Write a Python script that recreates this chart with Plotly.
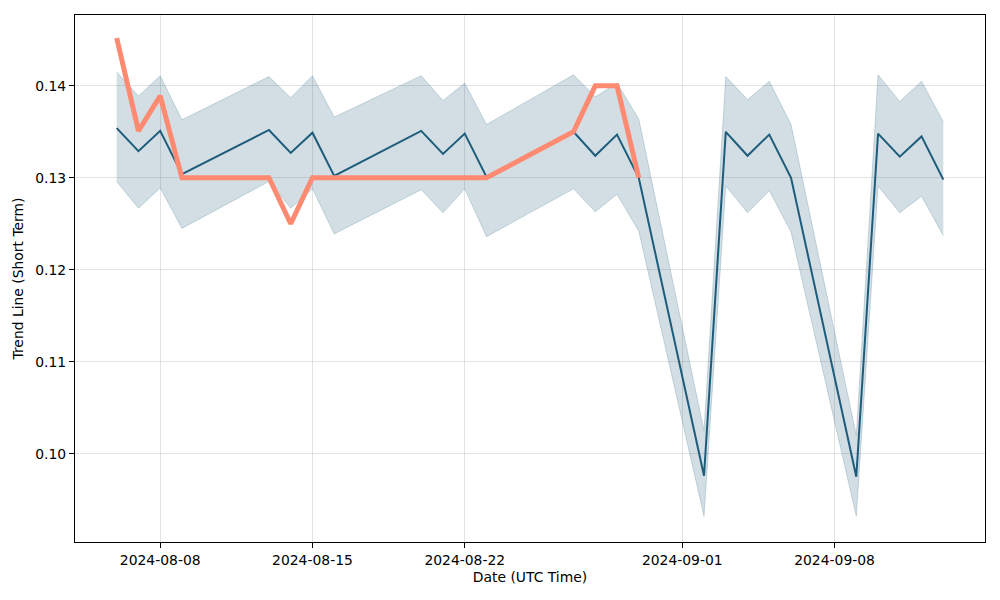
import plotly.graph_objects as go

dates = ["2024-08-06", "2024-08-07", "2024-08-08", "2024-08-09", "2024-08-13", "2024-08-14",
         "2024-08-15", "2024-08-16", "2024-08-20", "2024-08-21", "2024-08-22", "2024-08-23",
         "2024-08-27", "2024-08-28", "2024-08-29", "2024-08-30", "2024-09-02", "2024-09-03",
         "2024-09-04", "2024-09-05", "2024-09-06", "2024-09-09", "2024-09-10", "2024-09-11",
         "2024-09-12", "2024-09-13"]
trend = [0.1354, 0.1329, 0.1351, 0.1304, 0.1352, 0.1327, 0.1349, 0.1302, 0.1351, 0.1326,
         0.1348, 0.1301, 0.1350, 0.1324, 0.1347, 0.1300, 0.0976, 0.1350, 0.1324, 0.1347,
         0.1300, 0.0975, 0.1348, 0.1323, 0.1345, 0.1298]
upper = [0.1415, 0.1389, 0.1411, 0.1363, 0.1410, 0.1387, 0.1411, 0.1366, 0.1411, 0.1384,
         0.1403, 0.1358, 0.1412, 0.1388, 0.1403, 0.1364, 0.1025, 0.1410, 0.1385, 0.1405,
         0.1358, 0.1020, 0.1412, 0.1383, 0.1405, 0.1361]
lower = [0.1296, 0.1267, 0.1289, 0.1245, 0.1296, 0.1267, 0.1288, 0.1239, 0.1287, 0.1262,
         0.1288, 0.1236, 0.1288, 0.1263, 0.1282, 0.1242, 0.0932, 0.1291, 0.1262, 0.1286,
         0.1241, 0.0932, 0.1291, 0.1262, 0.1280, 0.1237]

price_dates = ["2024-08-06", "2024-08-07", "2024-08-08", "2024-08-09", "2024-08-13", "2024-08-14",
               "2024-08-15", "2024-08-16", "2024-08-20", "2024-08-21", "2024-08-22", "2024-08-23",
               "2024-08-27", "2024-08-28", "2024-08-29", "2024-08-30"]
price = [0.1452, 0.1351, 0.1389, 0.1300, 0.1300, 0.1250, 0.1300, 0.1300, 0.1300, 0.1300,
         0.1300, 0.1300, 0.1350, 0.1400, 0.1400, 0.1300]

x_ticks = ["2024-08-08", "2024-08-15", "2024-08-22", "2024-09-01", "2024-09-08"]
y_ticks = [0.10, 0.11, 0.12, 0.13, 0.14]

band_color = "rgba(29,92,122,0.2)"
line_color = "#1d5c7a"
orange = "#ff8a72"

fig = go.Figure()
fig.add_trace(go.Scatter(x=dates, y=upper, mode="lines",
                         line=dict(color=band_color, width=1), showlegend=False, hoverinfo="skip"))
fig.add_trace(go.Scatter(x=dates, y=lower, mode="lines", fill="tonexty", fillcolor=band_color,
                         line=dict(color=band_color, width=1), showlegend=False, hoverinfo="skip"))
fig.add_trace(go.Scatter(x=dates, y=trend, mode="lines",
                         line=dict(color=line_color, width=2), showlegend=False))
fig.add_trace(go.Scatter(x=price_dates, y=price, mode="lines",
                         line=dict(color=orange, width=5), showlegend=False))

font = dict(family="DejaVu Sans", size=13.9, color="black")
fig.update_layout(
    width=992, height=592,
    margin=dict(l=67, r=15, t=7, b=58),
    plot_bgcolor="white", paper_bgcolor="white",
    font=font,
    xaxis=dict(
        type="date", automargin=False,
        range=["2024-08-04 02:00", "2024-09-14 22:00"],
        tickvals=x_ticks, tickformat="%Y-%m-%d",
        showgrid=True, gridcolor="rgba(176,176,176,0.35)", gridwidth=1,
        showline=True, linecolor="black", linewidth=1, mirror=True,
        ticks="outside", ticklen=5, tickcolor="black",
        title=dict(text="Date (UTC Time)", font=font, standoff=5),
        zeroline=False,
    ),
    yaxis=dict(
        automargin=False,
        range=[0.0904, 0.1477],
        tickvals=y_ticks, tickformat=".2f",
        showgrid=True, gridcolor="rgba(176,176,176,0.35)", gridwidth=1,
        showline=True, linecolor="black", linewidth=1, mirror=True,
        ticks="outside", ticklen=5, tickcolor="black",
        title=dict(text="Trend Line (Short Term)", font=font, standoff=8),
        zeroline=False,
    ),
)

fig.write_html("out.html")
